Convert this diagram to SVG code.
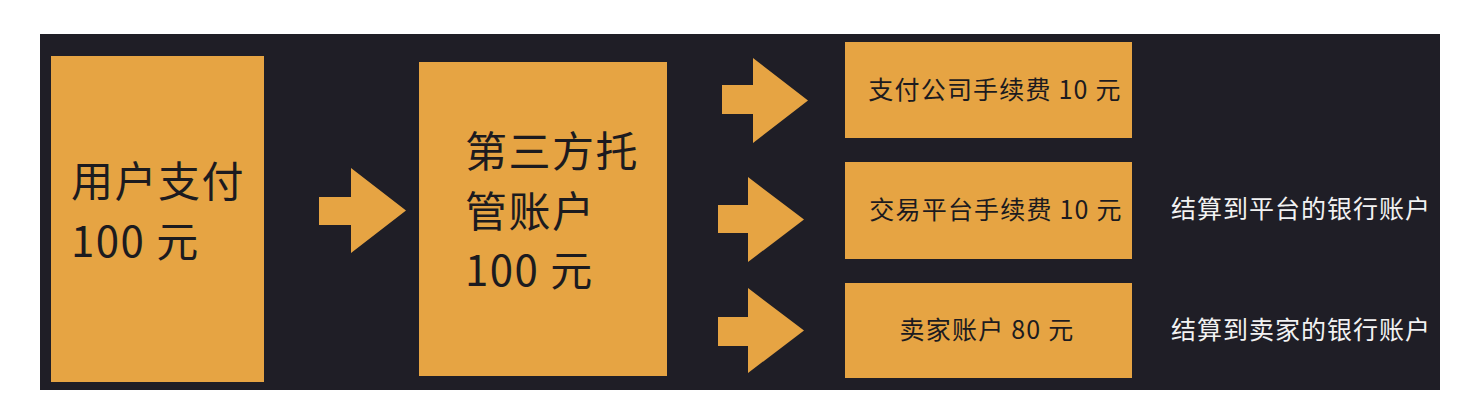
<svg xmlns="http://www.w3.org/2000/svg" width="1474" height="418" viewBox="0 0 1474 418">
<style>
.box{fill:#E6A443;}
.arrow{fill:#E6A443;}
.big{font-family:"Noto Sans CJK SC","Noto Sans",sans-serif;font-size:42px;letter-spacing:1.5px;fill:#1c1b1f;}
.small{font-family:"Noto Sans CJK SC","Noto Sans",sans-serif;font-size:25px;letter-spacing:1.2px;fill:#1c1b1f;text-anchor:middle;}
.note{font-family:"Noto Sans CJK SC","Noto Sans",sans-serif;font-size:25px;letter-spacing:1px;fill:#f2f2f2;}
</style>
<rect x="0" y="0" width="1474" height="418" fill="#ffffff"/>
<rect x="40" y="34" width="1400" height="356" fill="#1f1e26"/>
<g id="user-pay">
<rect class="box" x="51" y="56" width="213" height="326"/>
<text class="big" x="71" y="197">用户支付</text>
<text class="big" x="71" y="257">100 元</text>
</g>
<g id="escrow">
<rect class="box" x="419" y="62" width="248" height="314"/>
<text class="big" x="465" y="167">第三方托</text>
<text class="big" x="465" y="227">管账户</text>
<text class="big" x="465" y="286">100 元</text>
</g>
<g id="pay-fee">
<rect class="box" x="845" y="42" width="287" height="96"/>
<text class="small" x="995" y="99">支付公司手续费 10 元</text>
</g>
<g id="platform-fee">
<rect class="box" x="845" y="162" width="287" height="97"/>
<text class="small" x="996" y="219">交易平台手续费 10 元</text>
</g>
<g id="seller">
<rect class="box" x="845" y="283" width="287" height="95"/>
<text class="small" x="987" y="339">卖家账户 80 元</text>
</g>
<g id="note-platform">
<text class="note" x="1171" y="218">结算到平台的银行账户</text>
</g>
<g id="note-seller">
<text class="note" x="1171" y="339">结算到卖家的银行账户</text>
</g>
<g id="connectors">
<polygon class="arrow" points="319,197 351,197 351,168 406,210.5 351,253 351,225 319,225"/>
<polygon class="arrow" points="722,85 753,85 753,58 808,100.5 753,143 753,114 722,114"/>
<polygon class="arrow" points="718,205 748,205 748,177 804,219.5 748,262 748,233 718,233"/>
<polygon class="arrow" points="718,317 748,317 748,288 804,330.5 748,373 748,346 718,346"/>
</g>
</svg>
